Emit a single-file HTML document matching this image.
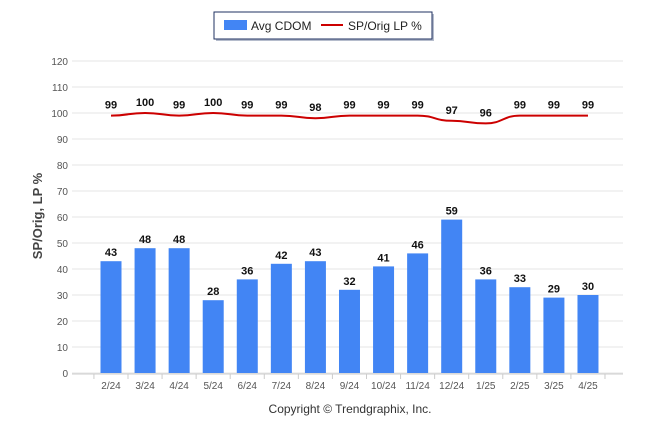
<!DOCTYPE html>
<html><head><meta charset="utf-8"><style>
body{margin:0;background:#fff;}
svg{font-family:"Liberation Sans",sans-serif;}
</style></head><body>
<svg id="c" width="646" height="434" viewBox="0 0 646 434">
<g>
<rect x="216" y="14" width="218" height="27" fill="#6b7a99" opacity="0.5"/>
<rect x="214" y="12" width="218" height="27" fill="#fff" stroke="#1f3160" stroke-width="1"/>
<rect x="224" y="20" width="23" height="10" fill="#4285f4"/>
<text x="251" y="30" font-size="12" fill="#222">Avg CDOM</text>
<line x1="321" y1="25" x2="343" y2="25" stroke="#cc0000" stroke-width="2"/>
<text x="348" y="30" font-size="12" fill="#222">SP/Orig LP %</text>
</g>
<text transform="translate(42,216) rotate(-90)" text-anchor="middle" font-size="13" font-weight="bold" fill="#444">SP/Orig, LP %</text>
<text x="350" y="413" text-anchor="middle" font-size="12" fill="#333">Copyright © Trendgraphix, Inc.</text>
<g id="grid"></g><g id="bars"></g><g id="line"></g><g id="labels"></g>
</svg>
<script>
const categories=["2/24","3/24","4/24","5/24","6/24","7/24","8/24","9/24","10/24","11/24","12/24","1/25","2/25","3/25","4/25"];
const cdom=[43,48,48,28,36,42,43,32,41,46,59,36,33,29,30];
const spPct=[99,100,99,100,99,99,98,99,99,99,97,96,99,99,99];
const yTicks=[0,10,20,30,40,50,60,70,80,90,100,110,120];
const NS="http://www.w3.org/2000/svg";
const y0=373,yTop=61,vMax=120;
const y=v=>y0-(v/vMax)*(y0-yTop);
const x=i=>111+i*34.07;
function mk(t,a,p){const e=document.createElementNS(NS,t);for(const k in a)e.setAttribute(k,a[k]);p.appendChild(e);return e;}
const grid=document.getElementById('grid'),bars=document.getElementById('bars'),line=document.getElementById('line'),labels=document.getElementById('labels');
yTicks.forEach(v=>{
 const l=mk('line',{x1:72,x2:623,y1:y(v),y2:y(v),stroke:'#e6e6e6','stroke-width':1},grid);
 
 
 const t=mk('text',{x:68,y:y(v)+4,'text-anchor':'end','font-size':10,fill:'#555'},grid);t.textContent=v;
 
 
});
const ax=mk('line',{x1:72,x2:623,y1:y0+1,y2:y0+1,stroke:'#ccc'},grid);


for(let i=-1;i<categories.length;i++){mk('line',{x1:x(i)+17,x2:x(i)+17,y1:y0+1,y2:y0+6,stroke:'#ccc'},grid);}
categories.forEach((c,i)=>{
 const b=mk('rect',{x:x(i)-10.5,y:y(cdom[i]),width:21,height:y0-y(cdom[i]),fill:'#4285f4'},bars);
 
 
 const t=mk('text',{x:x(i),y:y(cdom[i])-5,'text-anchor':'middle','font-size':11,'font-weight':'bold',fill:'#111'},labels);t.textContent=cdom[i];
 
 
 const xl=mk('text',{x:x(i),y:y0+16,'text-anchor':'middle','font-size':10,fill:'#555'},labels);xl.textContent=c;
 
 
 const pl=mk('text',{x:x(i),y:y(spPct[i])-7,'text-anchor':'middle','font-size':11,'font-weight':'bold',fill:'#111'},labels);pl.textContent=spPct[i];
 
 
});
let d='M'+x(0)+','+y(spPct[0]);
for(let i=1;i<spPct.length;i++){const xa=x(i-1),xb=x(i),mx=(xa+xb)/2;d+=' C'+mx+','+y(spPct[i-1])+' '+mx+','+y(spPct[i])+' '+xb+','+y(spPct[i]);}
const p=mk('path',{d:d,fill:'none',stroke:'#cc0000','stroke-width':2},line);


</script>
</body></html>
